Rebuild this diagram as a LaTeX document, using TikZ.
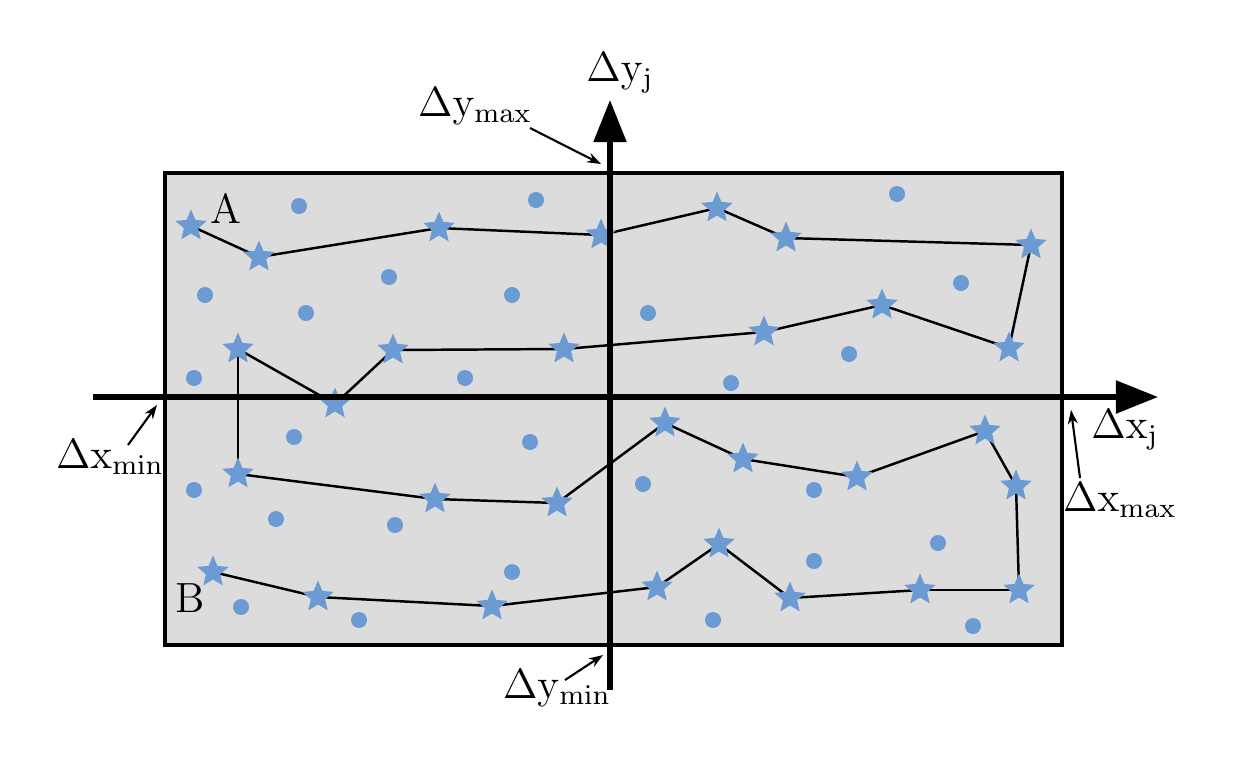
\documentclass[tikz,border=0pt]{standalone}
\usetikzlibrary{shapes.geometric,arrows.meta}
\definecolor{bleu}{HTML}{6B9BD2}
\definecolor{fond}{HTML}{DCDCDC}
\tikzset{
  etoile/.style={star, star points=5, star point ratio=2.2, fill=bleu, inner sep=0pt, minimum size=0.33cm},
  point/.style={circle, fill=bleu, inner sep=0pt, minimum size=0.16cm},
  axe/.style={line width=1.5pt, -{Triangle[length=0.42cm, width=0.32cm]}},
  fleche/.style={line width=0.6pt, -{Stealth[length=0.14cm, width=0.1cm]}},
  etiq/.style={font=\large}
}
\begin{document}
\begin{tikzpicture}[x=0.01cm, y=-0.01cm]
        \useasboundingbox (0,0) rectangle (1240,769);

        % Domaine (rectangle gris)
        \fill[fond] (165,173) rectangle (1062,645);
        \draw[line width=1.1pt] (165,173) rectangle (1062,645);

        % Points (cercles)
        \foreach \x/\y [count=\i] in {299/206, 536/200, 897/194, 205/295, 389/277, 306/313, 512/295,
            648/313, 961/283, 194/378, 465/378, 731/383, 849/354, 294/437, 530/442, 194/490,
            643/484, 814/490, 276/519, 395/525, 938/543, 814/561, 512/572, 241/607, 359/620,
            713/620, 973/626}
            \node[point] (p\i) at (\x,\y) {};

        % Chemin de A vers B
        \foreach \x/\y [count=\i] in {191/226, 259/257, 439/228, 601/235, 717/208, 786/238,
            1031/245, 1009/348, 882/305, 764/332, 564/349, 393/350, 335/404, 238/349, 238/474,
            435/499, 557/503, 665/423, 743/459, 857/477, 985/431, 1016/486, 1019/590, 920/590,
            790/598, 719/544, 657/587, 492/606, 318/597, 213/572}
            \coordinate (s\i) at (\x,\y);
        \foreach \i [evaluate=\i as \j using int(\i+1)] in {1,...,29}
            \draw[line width=0.7pt] (s\i) -- (s\j);
        \foreach \i in {1,...,30}
            \node[etoile] at (s\i) {};

        \node[etiq] (A) at (226,208) {A};
        \node[etiq] (B) at (190,598) {B};

        % Axes
        \coordinate (xg) at (93,397);
        \coordinate (xd) at (1158,397);
        \coordinate (yb) at (610,690);
        \coordinate (yh) at (610,100);
        \draw[axe] (xg) -- (xd);
        \draw[axe] (yb) -- (yh);
        \node[etiq] (xj) at (1125,430) {$\Delta\mathrm{x}_{\mathrm{j}}$};
        \node[etiq] (yj) at (620,73) {$\Delta\mathrm{y}_{\mathrm{j}}$};

        % Bornes
        \node[etiq] (xmin) at (110,457) {$\Delta\mathrm{x}_{\mathrm{min}}$};
        \node[etiq] (xmax) at (1120,500) {$\Delta\mathrm{x}_{\mathrm{max}}$};
        \node[etiq] (ymax) at (475,106) {$\Delta\mathrm{y}_{\mathrm{max}}$};
        \node[etiq] (ymin) at (557,688) {$\Delta\mathrm{y}_{\mathrm{min}}$};
        \coordinate (cxmin) at (157,405);
        \coordinate (cxmax) at (1071,410);
        \coordinate (cymax) at (601,164);
        \coordinate (cymin) at (603,655);
        \draw[fleche] (128,445) -- (cxmin);
        \draw[fleche] (1080,478) -- (cxmax);
        \draw[fleche] (530,128) -- (cymax);
        \draw[fleche] (565,680) -- (cymin);

    \end{tikzpicture}
\end{document}
